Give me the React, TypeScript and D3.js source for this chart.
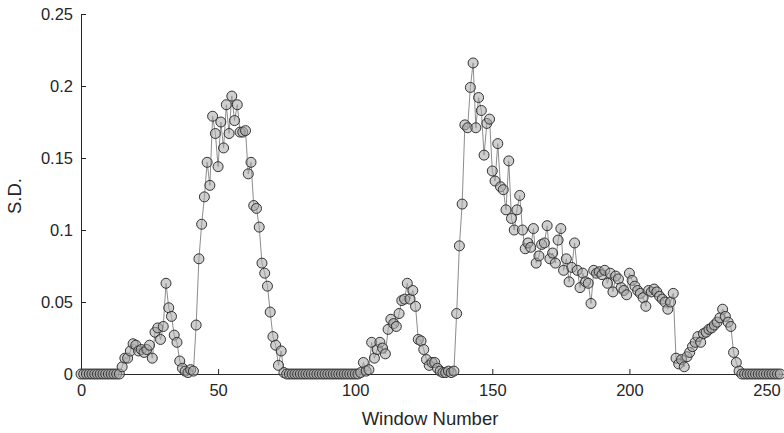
import React, { useEffect, useRef } from "react";
import * as d3 from "d3";

// S.D. per window (window number = array index)
const sdValues = [
  0, 0, 0, 0, 0, 0, 0, 0, 0, 0,
  0, 0, 0, 0, 0, 0.005, 0.011, 0.011, 0.016, 0.021,
  0.02, 0.016, 0.017, 0.015, 0.017, 0.02, 0.011, 0.029, 0.032, 0.024,
  0.033, 0.063, 0.046, 0.04, 0.027, 0.022, 0.009, 0.004, 0.002, 0.001,
  0.003, 0.002, 0.034, 0.08, 0.104, 0.123, 0.147, 0.131, 0.179, 0.167,
  0.144, 0.175, 0.157, 0.187, 0.167, 0.193, 0.176, 0.187, 0.168, 0.168,
  0.169, 0.139, 0.147, 0.117, 0.115, 0.102, 0.077, 0.07, 0.061, 0.043,
  0.026, 0.02, 0.006, 0.016, 0.001, 0, 0, 0, 0, 0,
  0, 0, 0, 0, 0, 0, 0, 0, 0, 0,
  0, 0, 0, 0, 0, 0, 0, 0, 0, 0,
  0, 0, 0.001, 0.008, 0.002, 0.003, 0.022, 0.011, 0.017, 0.022,
  0.018, 0.014, 0.031, 0.038, 0.035, 0.033, 0.042, 0.051, 0.052, 0.063,
  0.052, 0.058, 0.047, 0.024, 0.023, 0.017, 0.01, 0.006, 0.008, 0.008,
  0.004, 0.002, 0.001, 0.001, 0.002, 0.001, 0.002, 0.042, 0.089, 0.118,
  0.173, 0.171, 0.199, 0.216, 0.171, 0.192, 0.183, 0.152, 0.174, 0.177,
  0.141, 0.134, 0.16, 0.13, 0.128, 0.114, 0.148, 0.108, 0.1, 0.114,
  0.124, 0.1, 0.087, 0.091, 0.088, 0.101, 0.077, 0.082, 0.09, 0.091,
  0.103, 0.08, 0.084, 0.077, 0.093, 0.101, 0.072, 0.08, 0.064, 0.074,
  0.091, 0.072, 0.06, 0.07, 0.064, 0.063, 0.049, 0.072, 0.07, 0.071,
  0.069, 0.072, 0.063, 0.07, 0.057, 0.068, 0.066, 0.06, 0.058, 0.055,
  0.07, 0.065, 0.061, 0.058, 0.056, 0.053, 0.047, 0.058, 0.057, 0.059,
  0.057, 0.054, 0.052, 0.05, 0.045, 0.05, 0.056, 0.011, 0.007, 0.01,
  0.005, 0.012, 0.015, 0.019, 0.022, 0.026, 0.022, 0.028, 0.029, 0.031,
  0.032, 0.034, 0.036, 0.039, 0.045, 0.04, 0.036, 0.033, 0.015, 0.008,
  0.002, 0, 0, 0, 0, 0, 0, 0, 0, 0,
  0, 0, 0, 0, 0, 0,
];

const xTicks = [0, 50, 100, 150, 200, 250];
const yTicks = [0, 0.05, 0.1, 0.15, 0.2, 0.25];
const yTickLabels = ["0", "0.05", "0.1", "0.15", "0.2", "0.25"];
const xLabel = "Window Number";
const yLabel = "S.D.";

const FONT = "'Liberation Sans', Arial, Helvetica, sans-serif";
const AXIS = "#262626";

export default function App() {
  const svgRef = useRef<SVGSVGElement>(null);

  useEffect(() => {
    const width = 784;
    const height = 433;
    const left = 81;
    const top = 14;
    const bottom = 374;

    const svg = d3.select(svgRef.current);
    svg.selectAll("*").remove();
    svg.attr("width", width).attr("height", height);

    const x = d3.scaleLinear().domain([0, 256]).range([left, left + 256 * 2.742]);
    const y = d3.scaleLinear().domain([0, 0.25]).range([bottom, top]);

    // x axis, ticks pointing inward
    const xAxis = svg
      .append("g")
      .attr("transform", `translate(0,${bottom})`)
      .call(
        d3
          .axisBottom(x)
          .tickValues(xTicks)
          .tickSizeInner(-5)
          .tickSizeOuter(0)
          .tickPadding(10)
          .tickFormat((d) => String(d))
      );
    xAxis.select(".domain").remove();
    xAxis.selectAll(".tick line").attr("stroke", AXIS);
    xAxis
      .selectAll(".tick text")
      .attr("fill", AXIS)
      .style("font-family", FONT)
      .style("font-size", "16.5px");

    // y axis
    const yAxis = svg
      .append("g")
      .attr("transform", `translate(${left},0)`)
      .call(
        d3
          .axisLeft(y)
          .tickValues(yTicks)
          .tickSizeInner(-5)
          .tickSizeOuter(0)
          .tickPadding(8)
          .tickFormat((d, i) => yTickLabels[i])
      );
    yAxis.select(".domain").remove();
    yAxis.selectAll(".tick line").attr("stroke", AXIS);
    yAxis
      .selectAll(".tick text")
      .attr("fill", AXIS)
      .style("font-family", FONT)
      .style("font-size", "16.5px");

    // axis lines (x runs off the right edge)
    svg
      .append("line")
      .attr("x1", left)
      .attr("x2", width)
      .attr("y1", bottom + 0.5)
      .attr("y2", bottom + 0.5)
      .attr("stroke", AXIS);
    svg
      .append("line")
      .attr("x1", left + 0.5)
      .attr("x2", left + 0.5)
      .attr("y1", top)
      .attr("y2", bottom + 0.5)
      .attr("stroke", AXIS);

    // connecting line
    const line = d3
      .line<number>()
      .x((d, i) => x(i))
      .y((d) => y(d));
    svg
      .append("path")
      .datum(sdValues)
      .attr("d", line)
      .attr("fill", "none")
      .attr("stroke", "#6e6e6e")
      .attr("stroke-width", 0.8);

    // markers
    svg
      .append("g")
      .selectAll("circle")
      .data(sdValues)
      .join("circle")
      .attr("cx", (d, i) => x(i))
      .attr("cy", (d) => y(d))
      .attr("r", 5)
      .attr("fill", "#a8a8a8")
      .attr("fill-opacity", 0.55)
      .attr("stroke", "#333")
      .attr("stroke-width", 1);

    // labels
    svg
      .append("text")
      .attr("x", 430)
      .attr("y", 425)
      .attr("text-anchor", "middle")
      .attr("fill", AXIS)
      .style("font-family", FONT)
      .style("font-size", "18.5px")
      .text(xLabel);

    svg
      .append("text")
      .attr("transform", `translate(21,196) rotate(-90)`)
      .attr("text-anchor", "middle")
      .attr("fill", AXIS)
      .style("font-family", FONT)
      .style("font-size", "18.5px")
      .text(yLabel);
  }, []);

  return (
    <svg
      ref={svgRef}
      style={{ position: "absolute", left: 0, top: 0, background: "#fff" }}
    ></svg>
  );
}
